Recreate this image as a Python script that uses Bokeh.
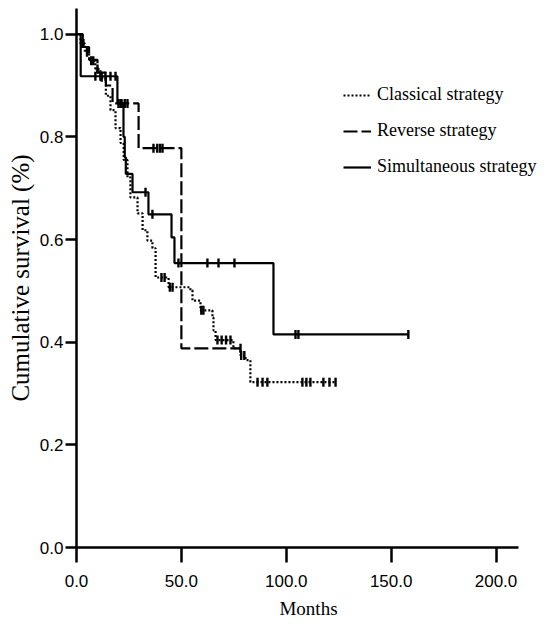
import numpy as np
from bokeh.plotting import figure
from bokeh.models import Range1d, FixedTicker, PrintfTickFormatter, Legend, LegendItem
from bokeh.embed import file_html
from bokeh.resources import INLINE

# ---- data ----
# Classical strategy: step times (months) and survival after each step
classical_t = [0, 1.9, 4, 6, 9, 11.4, 14, 16.2, 18.6, 21, 22.5, 24.3, 25.7, 29.1, 31.5, 33.8, 36.2,
               37.7, 43.9, 54.3, 55.3, 59.1, 64.8, 65.3, 66.3, 74.8, 78.2, 80.6, 82.9, 123.5]
classical_s = [1.0, 0.982, 0.965, 0.948, 0.932, 0.916, 0.88, 0.852, 0.817, 0.788, 0.755, 0.721, 0.682,
               0.651, 0.618, 0.598, 0.583, 0.526, 0.507, 0.501, 0.481, 0.462, 0.448, 0.423, 0.404,
               0.388, 0.374, 0.365, 0.322, 0.322]
classical_cens = [2.5, 3.3, 5, 7, 8, 10, 12, 40.5, 42, 44.5, 45.8, 59.5, 60.5, 67.2, 69.2, 71.3,
                  73.4, 78.5, 80, 86.3, 88.7, 91, 107.7, 109.6, 111.5, 117.7, 120.6, 123.5]

# Reverse strategy
reverse_t = [0, 3, 6, 10, 14, 17.2, 29.6, 50, 78.2]
reverse_s = [1.0, 0.975, 0.95, 0.925, 0.9, 0.865, 0.778, 0.388, 0.388]
reverse_cens = [20, 21.5, 23, 24.3, 36.7, 38.5, 39.8, 41, 78.2]

# Simultaneous strategy
simult_t = [0, 2, 19.5, 22.4, 23, 23.5, 26.7, 34.3, 45.3, 46.7, 93.9, 158.2]
simult_s = [1.0, 0.918, 0.865, 0.80, 0.76, 0.728, 0.692, 0.649, 0.604, 0.554, 0.415, 0.415]
simult_cens = [9, 11.4, 13.8, 16.2, 18.6, 21, 32.9, 36.2, 48.6, 62.4, 67.7, 75.3, 104.4, 105.8, 158.2]

series_names = ["Classical strategy", "Reverse strategy", "Simultaneous strategy"]
x_ticks = [0, 50, 100, 150, 200]
y_ticks = [0.0, 0.2, 0.4, 0.6, 0.8, 1.0]
x_axis_end = 210.7


def surv_at(t_list, s_list, times):
    t = np.asarray(t_list, dtype=float)
    s = np.asarray(s_list, dtype=float)
    idx = np.searchsorted(t, np.asarray(times, dtype=float), side="right") - 1
    return s[idx]


p = figure(width=540, height=628, output_backend="svg", toolbar_location=None,
           x_range=Range1d(0, 221.2), y_range=Range1d(0, 1.05),
           min_border_left=76, min_border_right=0, min_border_top=8, min_border_bottom=81)
p.outline_line_color = None
p.xgrid.visible = False
p.ygrid.visible = False
p.background_fill_color = "white"
p.border_fill_color = "white"

styles = [dict(line_dash="2 2"), dict(line_dash="14 4"), dict(line_dash="solid")]
data = [(classical_t, classical_s, classical_cens),
        (reverse_t, reverse_s, reverse_cens),
        (simult_t, simult_s, simult_cens)]

items = []
for name, (t, s, c), st in zip(series_names, data, styles):
    r = p.step(t, s, mode="after", line_color="black", line_width=2.2, **st)
    p.scatter(c, surv_at(t, s, c), marker="dash", angle=np.pi / 2, size=9,
              line_color="black", line_width=2.4)
    items.append(LegendItem(label=name, renderers=[r]))

legend = Legend(items=items, location=(267, 370), orientation="vertical",
                glyph_width=28, glyph_height=20, label_standoff=6, spacing=15,
                padding=0, margin=0, border_line_color=None, background_fill_alpha=0,
                label_text_font="Liberation Serif", label_text_font_size="18px",
                label_text_color="black")
p.add_layout(legend, "center")

for ax in (p.xaxis[0], p.yaxis[0]):
    ax.axis_line_width = 2.5
    ax.axis_line_color = "black"
    ax.major_tick_line_width = 2.5
    ax.major_tick_line_color = "black"
    ax.major_tick_in = 0
    ax.minor_tick_line_color = None
    ax.major_label_text_font = "Liberation Sans"
    ax.major_label_text_font_size = "17px"
    ax.major_label_text_color = "black"
    ax.axis_label_text_font = "Liberation Serif"
    ax.axis_label_text_font_style = "normal"
    ax.axis_label_text_color = "black"
    ax.formatter = PrintfTickFormatter(format="%.1f")

p.xaxis.bounds = (0, x_axis_end)
p.xaxis.ticker = FixedTicker(ticks=x_ticks)
p.yaxis.ticker = FixedTicker(ticks=y_ticks)
p.xaxis.axis_label = "Months"
p.yaxis.axis_label = "Cumulative survival (%)"
p.xaxis.major_tick_out = 15
p.yaxis.major_tick_out = 11
p.xaxis.major_label_standoff = 12
p.yaxis.major_label_standoff = 2
p.xaxis.axis_label_text_font_size = "19px"
p.yaxis.axis_label_text_font_size = "25px"
p.xaxis.axis_label_standoff = 8
p.yaxis.axis_label_standoff = 3

open("out.html", "w").write(file_html(p, INLINE))
